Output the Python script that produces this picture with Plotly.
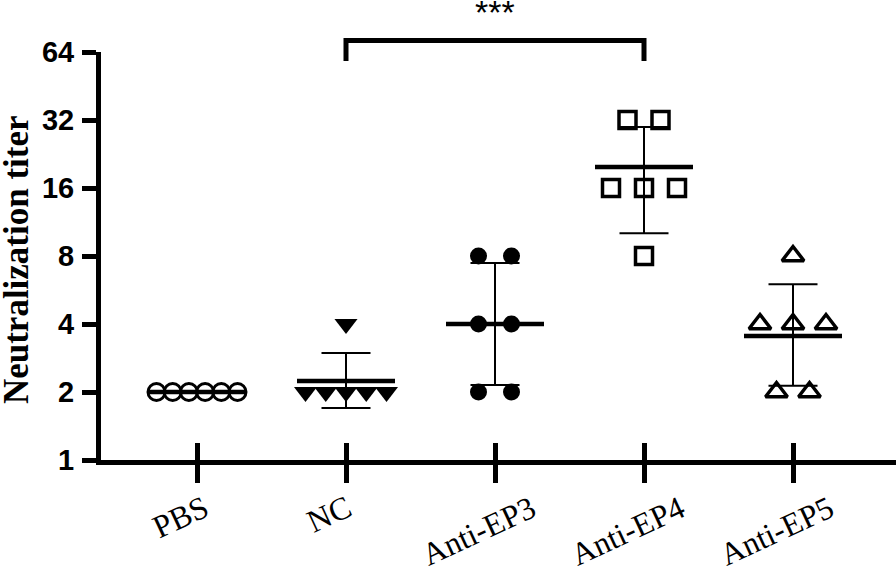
import math
import plotly.graph_objects as go

# ---- data ----
categories = ["PBS", "NC", "Anti-EP3", "Anti-EP4", "Anti-EP5"]
pbs = [2, 2, 2, 2, 2, 2]
nc = [4, 2, 2, 2, 2, 2]
ep3 = [8, 8, 4, 4, 2, 2]
ep4 = [32, 32, 16, 16, 16, 8]
ep5 = [8, 4, 4, 4, 2, 2]
groups = [pbs, nc, ep3, ep4, ep5]

means = [2, 2.24, 4, 19.8, 3.54]
upper = [2, 2.98, 7.45, 29.8, 6.0]
lower = [2, 1.70, 2.15, 10.1, 2.13]

y_ticks = [1, 2, 4, 8, 16, 32, 64]
y_title = "Neutralization titer"
comparisons = [("NC", "Anti-EP4", "***")]

# ---- styles ----
symbols = ["circle-open", "triangle-down", "circle", "square-open", "triangle-up-open"]
msizes = [17, 20, 17, 17, 19]
mlines = [3, 0, 0, 3.5, 3.5]

# layout geometry
L, R, T, B = 101, 0, 52, 112
W, H = 896, 572
plot_w = W - L - R
plot_h = H - T - B
cat_px = 149.0
first_px = 197 - L
x0 = -first_px / cat_px
x1 = x0 + plot_w / cat_px


def swarm_offsets(vals, max_span_px=81.0, max_gap_px=33.0):
    """Spread equal values side by side (centered), GraphPad-style."""
    offs = [0.0] * len(vals)
    seen = {}
    for i, v in enumerate(vals):
        seen.setdefault(v, []).append(i)
    for v, idx in seen.items():
        n = len(idx)
        if n == 1:
            continue
        gap = min(max_gap_px, max_span_px / (n - 1))
        for k, i in enumerate(idx):
            offs[i] = (k - (n - 1) / 2.0) * gap / cat_px
    return offs


fig = go.Figure()

# error bars (mean +/- SD)
fig.add_trace(go.Scatter(
    x=list(range(len(categories))), y=means, mode="markers",
    marker=dict(size=1, opacity=0),
    error_y=dict(type="data", symmetric=False,
                 array=[u - m for u, m in zip(upper, means)],
                 arrayminus=[m - l for m, l in zip(means, lower)],
                 color="black", thickness=2, width=24.5),
    hoverinfo="skip", cliponaxis=False,
))

# mean lines
fig.add_trace(go.Scatter(
    x=list(range(len(categories))), y=means, mode="markers",
    marker=dict(symbol="line-ew", size=70, color="black",
                line=dict(width=4.5, color="black")),
    hoverinfo="skip", cliponaxis=False,
))

# individual points
for gi, vals in enumerate(groups):
    offs = swarm_offsets(vals)
    fig.add_trace(go.Scatter(
        x=[gi + o for o in offs], y=vals, mode="markers",
        marker=dict(symbol=symbols[gi], size=msizes[gi], color="black",
                    line=dict(width=mlines[gi], color="black")),
        cliponaxis=False, name=categories[gi],
    ))

# dummy trace to carry the inside-tick overlay axis
fig.add_trace(go.Scatter(x=[0], y=[2], xaxis="x2", yaxis="y", mode="markers",
                         marker=dict(opacity=0, size=1), hoverinfo="skip"))

# rotated category labels (GraphPad-style: rotated box centred under tick)
lab_dx = -17 / cat_px
lab_y = -(486 - (T + plot_h)) / plot_h
for i, c in enumerate(categories):
    fig.add_annotation(x=i + lab_dx, y=lab_y, xref="x", yref="paper",
                       text=c, showarrow=False, textangle=-25,
                       xanchor="center", yanchor="top",
                       font=dict(family="Liberation Serif", size=32, color="black"))

# y-axis title
fig.add_annotation(x=(16 - L) / plot_w, y=0.49, xref="paper", yref="paper",
                   text=y_title, showarrow=False, textangle=-90,
                   xanchor="center", yanchor="middle",
                   font=dict(family="Liberation Serif", size=35, color="black",
                             weight="bold"))

# significance bracket
y_top = 1 + (T - 40.5) / plot_h
y_low = 1 - (61 - T) / plot_h
for a, b, lab in comparisons:
    ia, ib = categories.index(a), categories.index(b)
    fig.add_shape(type="path", xref="x", yref="paper",
                  path=f"M {ia},{y_low} L {ia},{y_top} L {ib},{y_top} L {ib},{y_low}",
                  line=dict(color="black", width=5))
    fig.add_annotation(x=(ia + ib) / 2, y=1 + (T - 12) / plot_h, xref="x", yref="paper",
                       text=lab, showarrow=False, yanchor="middle",
                       font=dict(family="Liberation Sans", size=34, color="black"))

fig.update_layout(
    width=W, height=H,
    margin=dict(l=L, r=R, t=T, b=B, autoexpand=False),
    paper_bgcolor="white", plot_bgcolor="white",
    showlegend=False,
    xaxis=dict(range=[x0, x1], tickvals=list(range(len(categories))),
               showticklabels=False, automargin=False,
               ticks="outside", ticklen=18, tickwidth=5, tickcolor="black",
               showline=True, linewidth=5, linecolor="black",
               showgrid=False, zeroline=False),
    xaxis2=dict(range=[x0, x1], overlaying="x", anchor="y", matches="x",
                tickvals=list(range(len(categories))), showticklabels=False,
                ticks="inside", ticklen=17, tickwidth=5, tickcolor="black",
                showline=True, linewidth=5, linecolor="black", automargin=False,
                showgrid=False, zeroline=False),
    yaxis=dict(type="log", range=[0, math.log10(64)], automargin=False,
               tickvals=y_ticks, ticktext=[str(v) for v in y_ticks],
               tickfont=dict(family="Liberation Sans", size=29, color="black",
                             weight="bold"),
               ticklabelstandoff=2,
               ticks="outside", ticklen=14, tickwidth=5, tickcolor="black",
               showline=True, linewidth=5, linecolor="black",
               showgrid=False, zeroline=False),
)

fig.write_html("out.html", config={"displayModeBar": False},
               post_script="document.body.style.margin='0';document.body.style.overflow='hidden';")
